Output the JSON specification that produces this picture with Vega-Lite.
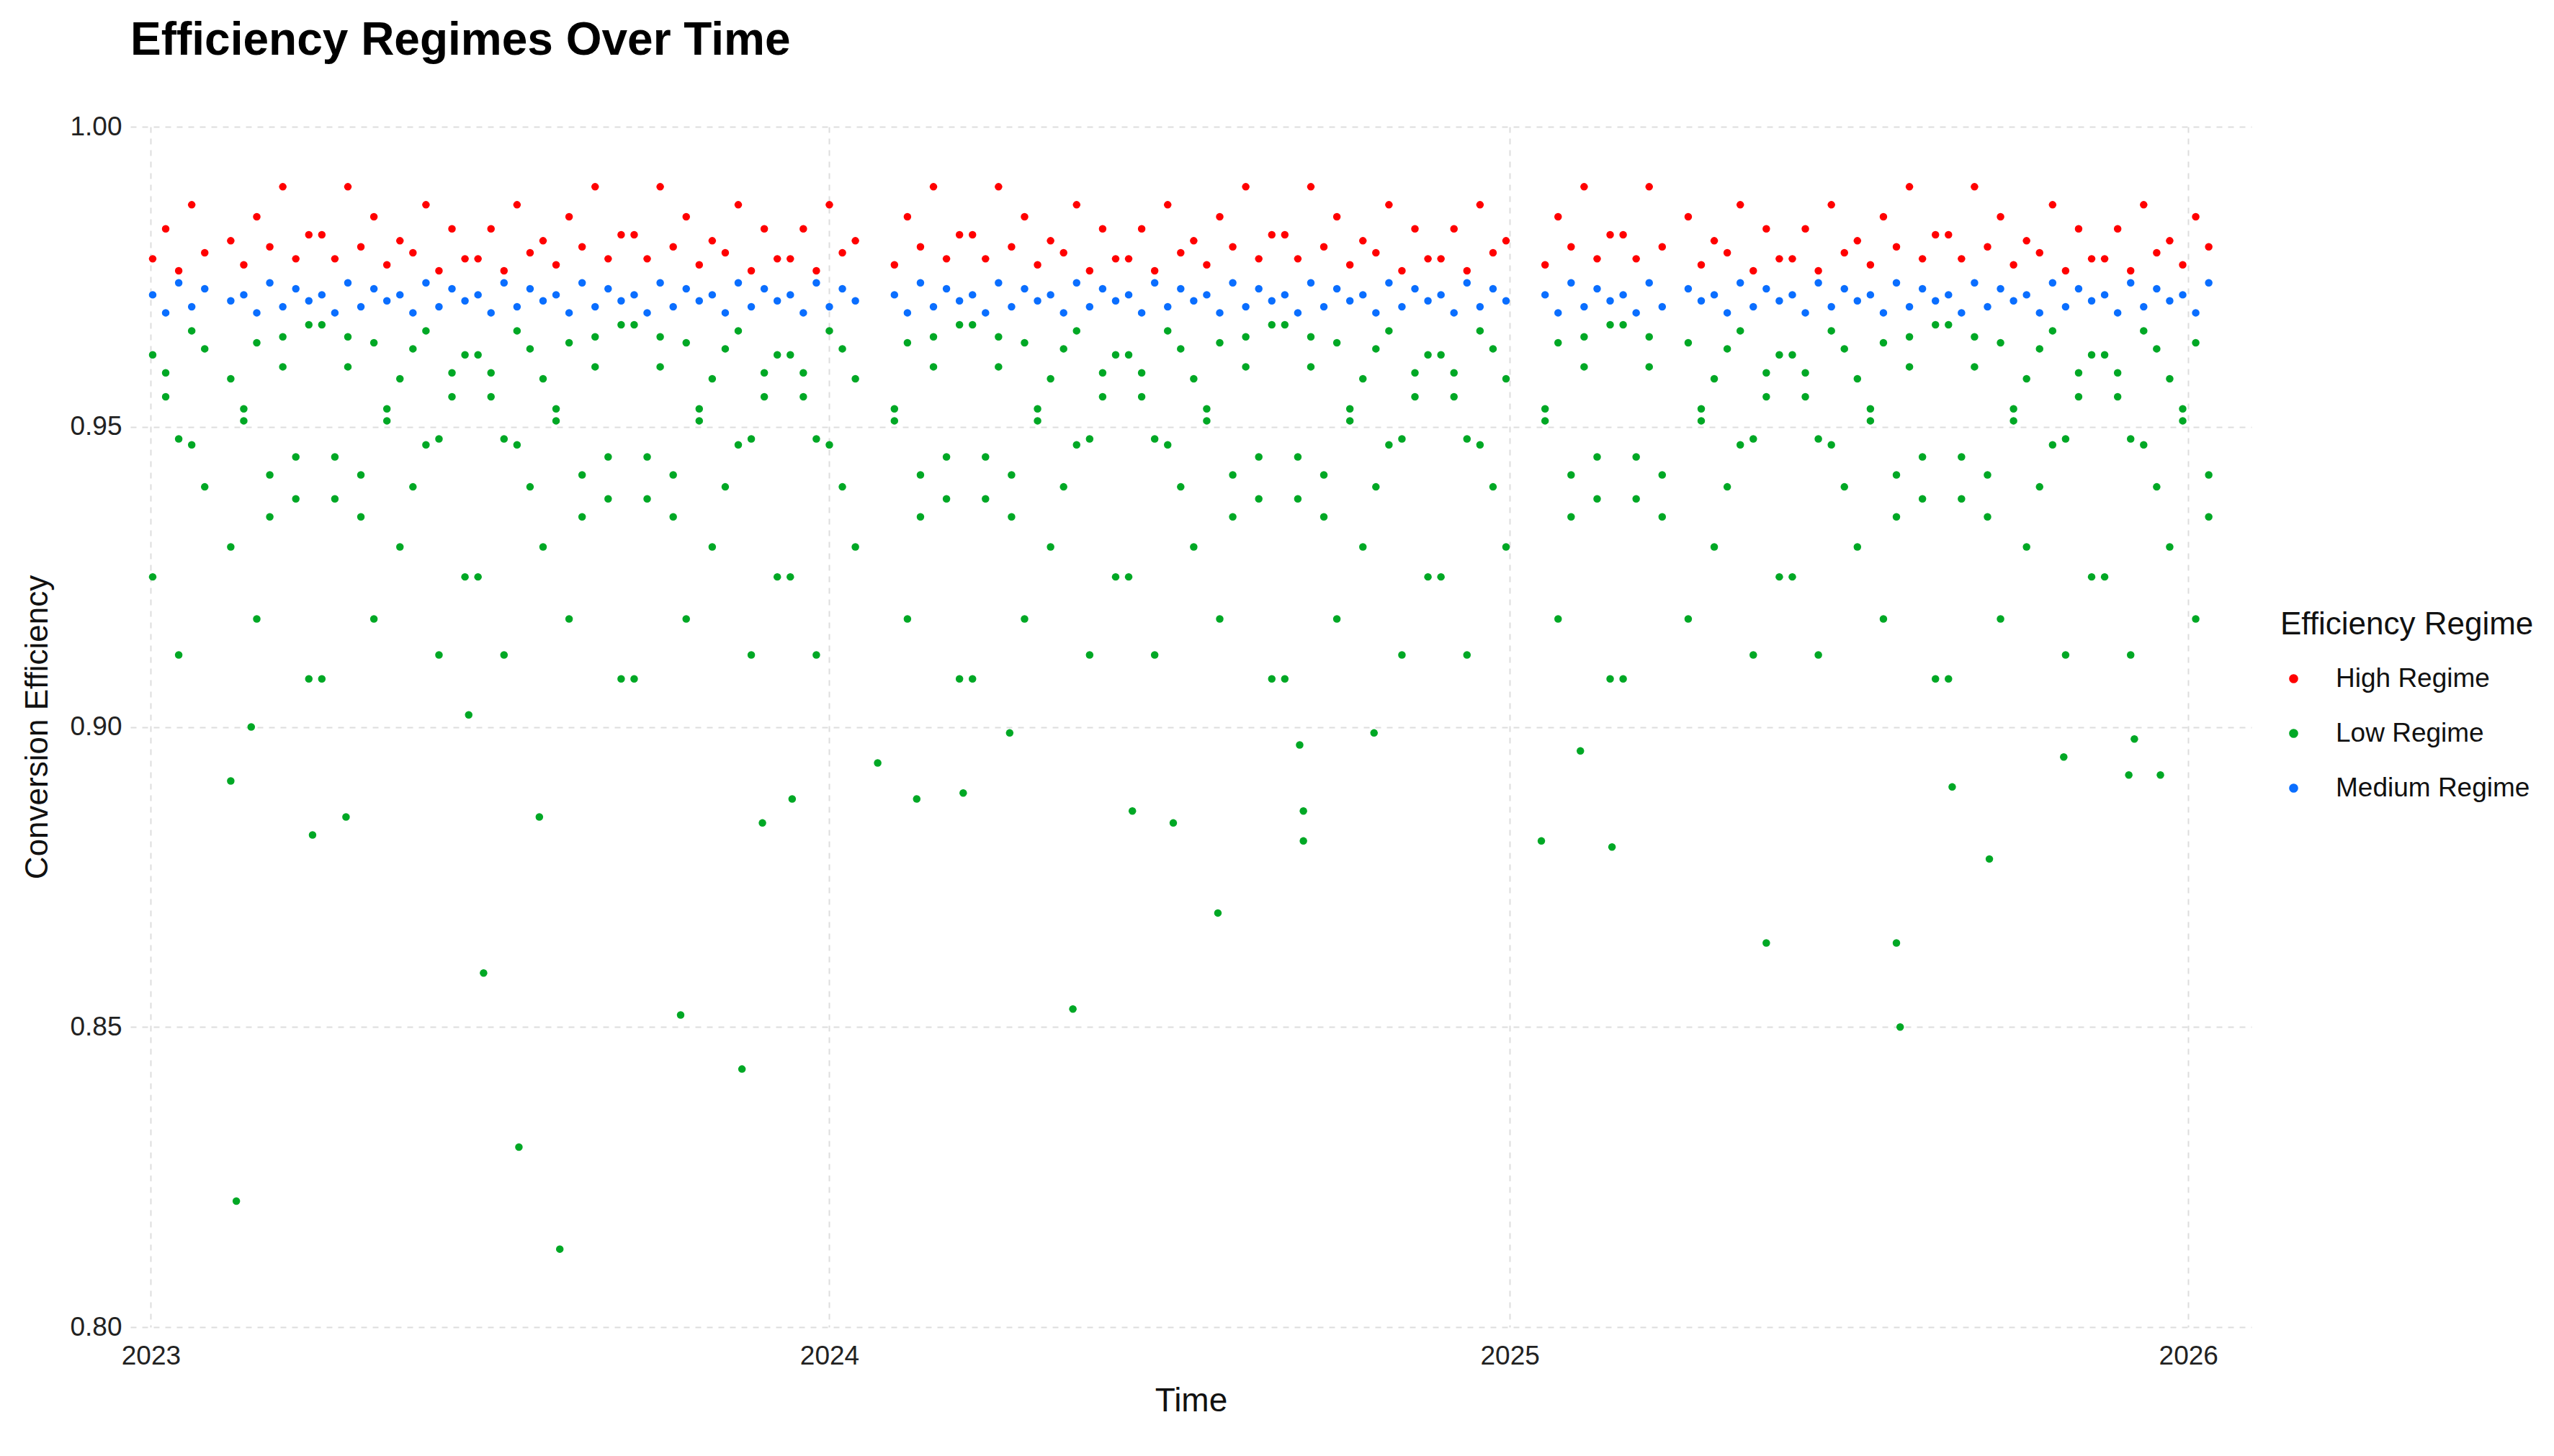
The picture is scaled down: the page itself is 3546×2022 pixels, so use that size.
{
  "$schema": "https://vega.github.io/schema/vega-lite/v6.json",
  "width": 2945,
  "height": 1667,
  "autosize": {"type": "none"},
  "padding": {"left": 181, "top": 176, "right": 420, "bottom": 179},
  "background": "white",
  "title": {
    "text": "Efficiency Regimes Over Time",
    "anchor": "start",
    "frame": "group",
    "fontSize": 64,
    "fontWeight": "bold",
    "font": "Liberation Sans",
    "color": "black",
    "offset": 68
  },
  "data": {
    "values": [
      {"t":"2023-01-02","v":0.978,"r":"H"},{"t":"2023-01-02","v":0.972,"r":"M"},{"t":"2023-01-02","v":0.962,"r":"L"},{"t":"2023-01-02","v":0.925,"r":"L"},
      {"t":"2023-01-09","v":0.983,"r":"H"},{"t":"2023-01-09","v":0.969,"r":"M"},{"t":"2023-01-09","v":0.955,"r":"L"},{"t":"2023-01-09","v":0.959,"r":"L"},
      {"t":"2023-01-16","v":0.976,"r":"H"},{"t":"2023-01-16","v":0.974,"r":"M"},{"t":"2023-01-16","v":0.948,"r":"L"},{"t":"2023-01-16","v":0.912,"r":"L"},
      {"t":"2023-01-23","v":0.987,"r":"H"},{"t":"2023-01-23","v":0.970,"r":"M"},{"t":"2023-01-23","v":0.966,"r":"L"},{"t":"2023-01-23","v":0.947,"r":"L"},
      {"t":"2023-01-30","v":0.979,"r":"H"},{"t":"2023-01-30","v":0.973,"r":"M"},{"t":"2023-01-30","v":0.940,"r":"L"},{"t":"2023-01-30","v":0.963,"r":"L"},
      {"t":"2023-02-13","v":0.981,"r":"H"},{"t":"2023-02-13","v":0.971,"r":"M"},{"t":"2023-02-13","v":0.958,"r":"L"},{"t":"2023-02-13","v":0.930,"r":"L"},
      {"t":"2023-02-20","v":0.977,"r":"H"},{"t":"2023-02-20","v":0.972,"r":"M"},{"t":"2023-02-20","v":0.951,"r":"L"},{"t":"2023-02-20","v":0.953,"r":"L"},
      {"t":"2023-02-27","v":0.985,"r":"H"},{"t":"2023-02-27","v":0.969,"r":"M"},{"t":"2023-02-27","v":0.964,"r":"L"},{"t":"2023-02-27","v":0.918,"r":"L"},
      {"t":"2023-03-06","v":0.980,"r":"H"},{"t":"2023-03-06","v":0.974,"r":"M"},{"t":"2023-03-06","v":0.935,"r":"L"},{"t":"2023-03-06","v":0.942,"r":"L"},
      {"t":"2023-03-13","v":0.990,"r":"H"},{"t":"2023-03-13","v":0.970,"r":"M"},{"t":"2023-03-13","v":0.960,"r":"L"},{"t":"2023-03-13","v":0.965,"r":"L"},
      {"t":"2023-03-20","v":0.978,"r":"H"},{"t":"2023-03-20","v":0.973,"r":"M"},{"t":"2023-03-20","v":0.945,"r":"L"},{"t":"2023-03-20","v":0.938,"r":"L"},
      {"t":"2023-03-27","v":0.982,"r":"H"},{"t":"2023-03-27","v":0.971,"r":"M"},{"t":"2023-03-27","v":0.967,"r":"L"},{"t":"2023-03-27","v":0.908,"r":"L"},
      {"t":"2023-04-03","v":0.982,"r":"H"},{"t":"2023-04-03","v":0.972,"r":"M"},{"t":"2023-04-03","v":0.967,"r":"L"},{"t":"2023-04-03","v":0.908,"r":"L"},
      {"t":"2023-04-10","v":0.978,"r":"H"},{"t":"2023-04-10","v":0.969,"r":"M"},{"t":"2023-04-10","v":0.945,"r":"L"},{"t":"2023-04-10","v":0.938,"r":"L"},
      {"t":"2023-04-17","v":0.990,"r":"H"},{"t":"2023-04-17","v":0.974,"r":"M"},{"t":"2023-04-17","v":0.960,"r":"L"},{"t":"2023-04-17","v":0.965,"r":"L"},
      {"t":"2023-04-24","v":0.980,"r":"H"},{"t":"2023-04-24","v":0.970,"r":"M"},{"t":"2023-04-24","v":0.935,"r":"L"},{"t":"2023-04-24","v":0.942,"r":"L"},
      {"t":"2023-05-01","v":0.985,"r":"H"},{"t":"2023-05-01","v":0.973,"r":"M"},{"t":"2023-05-01","v":0.964,"r":"L"},{"t":"2023-05-01","v":0.918,"r":"L"},
      {"t":"2023-05-08","v":0.977,"r":"H"},{"t":"2023-05-08","v":0.971,"r":"M"},{"t":"2023-05-08","v":0.951,"r":"L"},{"t":"2023-05-08","v":0.953,"r":"L"},
      {"t":"2023-05-15","v":0.981,"r":"H"},{"t":"2023-05-15","v":0.972,"r":"M"},{"t":"2023-05-15","v":0.958,"r":"L"},{"t":"2023-05-15","v":0.930,"r":"L"},
      {"t":"2023-05-22","v":0.979,"r":"H"},{"t":"2023-05-22","v":0.969,"r":"M"},{"t":"2023-05-22","v":0.940,"r":"L"},{"t":"2023-05-22","v":0.963,"r":"L"},
      {"t":"2023-05-29","v":0.987,"r":"H"},{"t":"2023-05-29","v":0.974,"r":"M"},{"t":"2023-05-29","v":0.966,"r":"L"},{"t":"2023-05-29","v":0.947,"r":"L"},
      {"t":"2023-06-05","v":0.976,"r":"H"},{"t":"2023-06-05","v":0.970,"r":"M"},{"t":"2023-06-05","v":0.948,"r":"L"},{"t":"2023-06-05","v":0.912,"r":"L"},
      {"t":"2023-06-12","v":0.983,"r":"H"},{"t":"2023-06-12","v":0.973,"r":"M"},{"t":"2023-06-12","v":0.955,"r":"L"},{"t":"2023-06-12","v":0.959,"r":"L"},
      {"t":"2023-06-19","v":0.978,"r":"H"},{"t":"2023-06-19","v":0.971,"r":"M"},{"t":"2023-06-19","v":0.962,"r":"L"},{"t":"2023-06-19","v":0.925,"r":"L"},
      {"t":"2023-06-26","v":0.978,"r":"H"},{"t":"2023-06-26","v":0.972,"r":"M"},{"t":"2023-06-26","v":0.962,"r":"L"},{"t":"2023-06-26","v":0.925,"r":"L"},
      {"t":"2023-07-03","v":0.983,"r":"H"},{"t":"2023-07-03","v":0.969,"r":"M"},{"t":"2023-07-03","v":0.955,"r":"L"},{"t":"2023-07-03","v":0.959,"r":"L"},
      {"t":"2023-07-10","v":0.976,"r":"H"},{"t":"2023-07-10","v":0.974,"r":"M"},{"t":"2023-07-10","v":0.948,"r":"L"},{"t":"2023-07-10","v":0.912,"r":"L"},
      {"t":"2023-07-17","v":0.987,"r":"H"},{"t":"2023-07-17","v":0.970,"r":"M"},{"t":"2023-07-17","v":0.966,"r":"L"},{"t":"2023-07-17","v":0.947,"r":"L"},
      {"t":"2023-07-24","v":0.979,"r":"H"},{"t":"2023-07-24","v":0.973,"r":"M"},{"t":"2023-07-24","v":0.940,"r":"L"},{"t":"2023-07-24","v":0.963,"r":"L"},
      {"t":"2023-07-31","v":0.981,"r":"H"},{"t":"2023-07-31","v":0.971,"r":"M"},{"t":"2023-07-31","v":0.958,"r":"L"},{"t":"2023-07-31","v":0.930,"r":"L"},
      {"t":"2023-08-07","v":0.977,"r":"H"},{"t":"2023-08-07","v":0.972,"r":"M"},{"t":"2023-08-07","v":0.951,"r":"L"},{"t":"2023-08-07","v":0.953,"r":"L"},
      {"t":"2023-08-14","v":0.985,"r":"H"},{"t":"2023-08-14","v":0.969,"r":"M"},{"t":"2023-08-14","v":0.964,"r":"L"},{"t":"2023-08-14","v":0.918,"r":"L"},
      {"t":"2023-08-21","v":0.980,"r":"H"},{"t":"2023-08-21","v":0.974,"r":"M"},{"t":"2023-08-21","v":0.935,"r":"L"},{"t":"2023-08-21","v":0.942,"r":"L"},
      {"t":"2023-08-28","v":0.990,"r":"H"},{"t":"2023-08-28","v":0.970,"r":"M"},{"t":"2023-08-28","v":0.960,"r":"L"},{"t":"2023-08-28","v":0.965,"r":"L"},
      {"t":"2023-09-04","v":0.978,"r":"H"},{"t":"2023-09-04","v":0.973,"r":"M"},{"t":"2023-09-04","v":0.945,"r":"L"},{"t":"2023-09-04","v":0.938,"r":"L"},
      {"t":"2023-09-11","v":0.982,"r":"H"},{"t":"2023-09-11","v":0.971,"r":"M"},{"t":"2023-09-11","v":0.967,"r":"L"},{"t":"2023-09-11","v":0.908,"r":"L"},
      {"t":"2023-09-18","v":0.982,"r":"H"},{"t":"2023-09-18","v":0.972,"r":"M"},{"t":"2023-09-18","v":0.967,"r":"L"},{"t":"2023-09-18","v":0.908,"r":"L"},
      {"t":"2023-09-25","v":0.978,"r":"H"},{"t":"2023-09-25","v":0.969,"r":"M"},{"t":"2023-09-25","v":0.945,"r":"L"},{"t":"2023-09-25","v":0.938,"r":"L"},
      {"t":"2023-10-02","v":0.990,"r":"H"},{"t":"2023-10-02","v":0.974,"r":"M"},{"t":"2023-10-02","v":0.960,"r":"L"},{"t":"2023-10-02","v":0.965,"r":"L"},
      {"t":"2023-10-09","v":0.980,"r":"H"},{"t":"2023-10-09","v":0.970,"r":"M"},{"t":"2023-10-09","v":0.935,"r":"L"},{"t":"2023-10-09","v":0.942,"r":"L"},
      {"t":"2023-10-16","v":0.985,"r":"H"},{"t":"2023-10-16","v":0.973,"r":"M"},{"t":"2023-10-16","v":0.964,"r":"L"},{"t":"2023-10-16","v":0.918,"r":"L"},
      {"t":"2023-10-23","v":0.977,"r":"H"},{"t":"2023-10-23","v":0.971,"r":"M"},{"t":"2023-10-23","v":0.951,"r":"L"},{"t":"2023-10-23","v":0.953,"r":"L"},
      {"t":"2023-10-30","v":0.981,"r":"H"},{"t":"2023-10-30","v":0.972,"r":"M"},{"t":"2023-10-30","v":0.958,"r":"L"},{"t":"2023-10-30","v":0.930,"r":"L"},
      {"t":"2023-11-06","v":0.979,"r":"H"},{"t":"2023-11-06","v":0.969,"r":"M"},{"t":"2023-11-06","v":0.940,"r":"L"},{"t":"2023-11-06","v":0.963,"r":"L"},
      {"t":"2023-11-13","v":0.987,"r":"H"},{"t":"2023-11-13","v":0.974,"r":"M"},{"t":"2023-11-13","v":0.966,"r":"L"},{"t":"2023-11-13","v":0.947,"r":"L"},
      {"t":"2023-11-20","v":0.976,"r":"H"},{"t":"2023-11-20","v":0.970,"r":"M"},{"t":"2023-11-20","v":0.948,"r":"L"},{"t":"2023-11-20","v":0.912,"r":"L"},
      {"t":"2023-11-27","v":0.983,"r":"H"},{"t":"2023-11-27","v":0.973,"r":"M"},{"t":"2023-11-27","v":0.955,"r":"L"},{"t":"2023-11-27","v":0.959,"r":"L"},
      {"t":"2023-12-04","v":0.978,"r":"H"},{"t":"2023-12-04","v":0.971,"r":"M"},{"t":"2023-12-04","v":0.962,"r":"L"},{"t":"2023-12-04","v":0.925,"r":"L"},
      {"t":"2023-12-11","v":0.978,"r":"H"},{"t":"2023-12-11","v":0.972,"r":"M"},{"t":"2023-12-11","v":0.962,"r":"L"},{"t":"2023-12-11","v":0.925,"r":"L"},
      {"t":"2023-12-18","v":0.983,"r":"H"},{"t":"2023-12-18","v":0.969,"r":"M"},{"t":"2023-12-18","v":0.955,"r":"L"},{"t":"2023-12-18","v":0.959,"r":"L"},
      {"t":"2023-12-25","v":0.976,"r":"H"},{"t":"2023-12-25","v":0.974,"r":"M"},{"t":"2023-12-25","v":0.948,"r":"L"},{"t":"2023-12-25","v":0.912,"r":"L"},
      {"t":"2024-01-01","v":0.987,"r":"H"},{"t":"2024-01-01","v":0.970,"r":"M"},{"t":"2024-01-01","v":0.966,"r":"L"},{"t":"2024-01-01","v":0.947,"r":"L"},
      {"t":"2024-01-08","v":0.979,"r":"H"},{"t":"2024-01-08","v":0.973,"r":"M"},{"t":"2024-01-08","v":0.940,"r":"L"},{"t":"2024-01-08","v":0.963,"r":"L"},
      {"t":"2024-01-15","v":0.981,"r":"H"},{"t":"2024-01-15","v":0.971,"r":"M"},{"t":"2024-01-15","v":0.958,"r":"L"},{"t":"2024-01-15","v":0.930,"r":"L"},
      {"t":"2024-02-05","v":0.977,"r":"H"},{"t":"2024-02-05","v":0.972,"r":"M"},{"t":"2024-02-05","v":0.951,"r":"L"},{"t":"2024-02-05","v":0.953,"r":"L"},
      {"t":"2024-02-12","v":0.985,"r":"H"},{"t":"2024-02-12","v":0.969,"r":"M"},{"t":"2024-02-12","v":0.964,"r":"L"},{"t":"2024-02-12","v":0.918,"r":"L"},
      {"t":"2024-02-19","v":0.980,"r":"H"},{"t":"2024-02-19","v":0.974,"r":"M"},{"t":"2024-02-19","v":0.935,"r":"L"},{"t":"2024-02-19","v":0.942,"r":"L"},
      {"t":"2024-02-26","v":0.990,"r":"H"},{"t":"2024-02-26","v":0.970,"r":"M"},{"t":"2024-02-26","v":0.960,"r":"L"},{"t":"2024-02-26","v":0.965,"r":"L"},
      {"t":"2024-03-04","v":0.978,"r":"H"},{"t":"2024-03-04","v":0.973,"r":"M"},{"t":"2024-03-04","v":0.945,"r":"L"},{"t":"2024-03-04","v":0.938,"r":"L"},
      {"t":"2024-03-11","v":0.982,"r":"H"},{"t":"2024-03-11","v":0.971,"r":"M"},{"t":"2024-03-11","v":0.967,"r":"L"},{"t":"2024-03-11","v":0.908,"r":"L"},
      {"t":"2024-03-18","v":0.982,"r":"H"},{"t":"2024-03-18","v":0.972,"r":"M"},{"t":"2024-03-18","v":0.967,"r":"L"},{"t":"2024-03-18","v":0.908,"r":"L"},
      {"t":"2024-03-25","v":0.978,"r":"H"},{"t":"2024-03-25","v":0.969,"r":"M"},{"t":"2024-03-25","v":0.945,"r":"L"},{"t":"2024-03-25","v":0.938,"r":"L"},
      {"t":"2024-04-01","v":0.990,"r":"H"},{"t":"2024-04-01","v":0.974,"r":"M"},{"t":"2024-04-01","v":0.960,"r":"L"},{"t":"2024-04-01","v":0.965,"r":"L"},
      {"t":"2024-04-08","v":0.980,"r":"H"},{"t":"2024-04-08","v":0.970,"r":"M"},{"t":"2024-04-08","v":0.935,"r":"L"},{"t":"2024-04-08","v":0.942,"r":"L"},
      {"t":"2024-04-15","v":0.985,"r":"H"},{"t":"2024-04-15","v":0.973,"r":"M"},{"t":"2024-04-15","v":0.964,"r":"L"},{"t":"2024-04-15","v":0.918,"r":"L"},
      {"t":"2024-04-22","v":0.977,"r":"H"},{"t":"2024-04-22","v":0.971,"r":"M"},{"t":"2024-04-22","v":0.951,"r":"L"},{"t":"2024-04-22","v":0.953,"r":"L"},
      {"t":"2024-04-29","v":0.981,"r":"H"},{"t":"2024-04-29","v":0.972,"r":"M"},{"t":"2024-04-29","v":0.958,"r":"L"},{"t":"2024-04-29","v":0.930,"r":"L"},
      {"t":"2024-05-06","v":0.979,"r":"H"},{"t":"2024-05-06","v":0.969,"r":"M"},{"t":"2024-05-06","v":0.940,"r":"L"},{"t":"2024-05-06","v":0.963,"r":"L"},
      {"t":"2024-05-13","v":0.987,"r":"H"},{"t":"2024-05-13","v":0.974,"r":"M"},{"t":"2024-05-13","v":0.966,"r":"L"},{"t":"2024-05-13","v":0.947,"r":"L"},
      {"t":"2024-05-20","v":0.976,"r":"H"},{"t":"2024-05-20","v":0.970,"r":"M"},{"t":"2024-05-20","v":0.948,"r":"L"},{"t":"2024-05-20","v":0.912,"r":"L"},
      {"t":"2024-05-27","v":0.983,"r":"H"},{"t":"2024-05-27","v":0.973,"r":"M"},{"t":"2024-05-27","v":0.955,"r":"L"},{"t":"2024-05-27","v":0.959,"r":"L"},
      {"t":"2024-06-03","v":0.978,"r":"H"},{"t":"2024-06-03","v":0.971,"r":"M"},{"t":"2024-06-03","v":0.962,"r":"L"},{"t":"2024-06-03","v":0.925,"r":"L"},
      {"t":"2024-06-10","v":0.978,"r":"H"},{"t":"2024-06-10","v":0.972,"r":"M"},{"t":"2024-06-10","v":0.962,"r":"L"},{"t":"2024-06-10","v":0.925,"r":"L"},
      {"t":"2024-06-17","v":0.983,"r":"H"},{"t":"2024-06-17","v":0.969,"r":"M"},{"t":"2024-06-17","v":0.955,"r":"L"},{"t":"2024-06-17","v":0.959,"r":"L"},
      {"t":"2024-06-24","v":0.976,"r":"H"},{"t":"2024-06-24","v":0.974,"r":"M"},{"t":"2024-06-24","v":0.948,"r":"L"},{"t":"2024-06-24","v":0.912,"r":"L"},
      {"t":"2024-07-01","v":0.987,"r":"H"},{"t":"2024-07-01","v":0.970,"r":"M"},{"t":"2024-07-01","v":0.966,"r":"L"},{"t":"2024-07-01","v":0.947,"r":"L"},
      {"t":"2024-07-08","v":0.979,"r":"H"},{"t":"2024-07-08","v":0.973,"r":"M"},{"t":"2024-07-08","v":0.940,"r":"L"},{"t":"2024-07-08","v":0.963,"r":"L"},
      {"t":"2024-07-15","v":0.981,"r":"H"},{"t":"2024-07-15","v":0.971,"r":"M"},{"t":"2024-07-15","v":0.958,"r":"L"},{"t":"2024-07-15","v":0.930,"r":"L"},
      {"t":"2024-07-22","v":0.977,"r":"H"},{"t":"2024-07-22","v":0.972,"r":"M"},{"t":"2024-07-22","v":0.951,"r":"L"},{"t":"2024-07-22","v":0.953,"r":"L"},
      {"t":"2024-07-29","v":0.985,"r":"H"},{"t":"2024-07-29","v":0.969,"r":"M"},{"t":"2024-07-29","v":0.964,"r":"L"},{"t":"2024-07-29","v":0.918,"r":"L"},
      {"t":"2024-08-05","v":0.980,"r":"H"},{"t":"2024-08-05","v":0.974,"r":"M"},{"t":"2024-08-05","v":0.935,"r":"L"},{"t":"2024-08-05","v":0.942,"r":"L"},
      {"t":"2024-08-12","v":0.990,"r":"H"},{"t":"2024-08-12","v":0.970,"r":"M"},{"t":"2024-08-12","v":0.960,"r":"L"},{"t":"2024-08-12","v":0.965,"r":"L"},
      {"t":"2024-08-19","v":0.978,"r":"H"},{"t":"2024-08-19","v":0.973,"r":"M"},{"t":"2024-08-19","v":0.945,"r":"L"},{"t":"2024-08-19","v":0.938,"r":"L"},
      {"t":"2024-08-26","v":0.982,"r":"H"},{"t":"2024-08-26","v":0.971,"r":"M"},{"t":"2024-08-26","v":0.967,"r":"L"},{"t":"2024-08-26","v":0.908,"r":"L"},
      {"t":"2024-09-02","v":0.982,"r":"H"},{"t":"2024-09-02","v":0.972,"r":"M"},{"t":"2024-09-02","v":0.967,"r":"L"},{"t":"2024-09-02","v":0.908,"r":"L"},
      {"t":"2024-09-09","v":0.978,"r":"H"},{"t":"2024-09-09","v":0.969,"r":"M"},{"t":"2024-09-09","v":0.945,"r":"L"},{"t":"2024-09-09","v":0.938,"r":"L"},
      {"t":"2024-09-16","v":0.990,"r":"H"},{"t":"2024-09-16","v":0.974,"r":"M"},{"t":"2024-09-16","v":0.960,"r":"L"},{"t":"2024-09-16","v":0.965,"r":"L"},
      {"t":"2024-09-23","v":0.980,"r":"H"},{"t":"2024-09-23","v":0.970,"r":"M"},{"t":"2024-09-23","v":0.935,"r":"L"},{"t":"2024-09-23","v":0.942,"r":"L"},
      {"t":"2024-09-30","v":0.985,"r":"H"},{"t":"2024-09-30","v":0.973,"r":"M"},{"t":"2024-09-30","v":0.964,"r":"L"},{"t":"2024-09-30","v":0.918,"r":"L"},
      {"t":"2024-10-07","v":0.977,"r":"H"},{"t":"2024-10-07","v":0.971,"r":"M"},{"t":"2024-10-07","v":0.951,"r":"L"},{"t":"2024-10-07","v":0.953,"r":"L"},
      {"t":"2024-10-14","v":0.981,"r":"H"},{"t":"2024-10-14","v":0.972,"r":"M"},{"t":"2024-10-14","v":0.958,"r":"L"},{"t":"2024-10-14","v":0.930,"r":"L"},
      {"t":"2024-10-21","v":0.979,"r":"H"},{"t":"2024-10-21","v":0.969,"r":"M"},{"t":"2024-10-21","v":0.940,"r":"L"},{"t":"2024-10-21","v":0.963,"r":"L"},
      {"t":"2024-10-28","v":0.987,"r":"H"},{"t":"2024-10-28","v":0.974,"r":"M"},{"t":"2024-10-28","v":0.966,"r":"L"},{"t":"2024-10-28","v":0.947,"r":"L"},
      {"t":"2024-11-04","v":0.976,"r":"H"},{"t":"2024-11-04","v":0.970,"r":"M"},{"t":"2024-11-04","v":0.948,"r":"L"},{"t":"2024-11-04","v":0.912,"r":"L"},
      {"t":"2024-11-11","v":0.983,"r":"H"},{"t":"2024-11-11","v":0.973,"r":"M"},{"t":"2024-11-11","v":0.955,"r":"L"},{"t":"2024-11-11","v":0.959,"r":"L"},
      {"t":"2024-11-18","v":0.978,"r":"H"},{"t":"2024-11-18","v":0.971,"r":"M"},{"t":"2024-11-18","v":0.962,"r":"L"},{"t":"2024-11-18","v":0.925,"r":"L"},
      {"t":"2024-11-25","v":0.978,"r":"H"},{"t":"2024-11-25","v":0.972,"r":"M"},{"t":"2024-11-25","v":0.962,"r":"L"},{"t":"2024-11-25","v":0.925,"r":"L"},
      {"t":"2024-12-02","v":0.983,"r":"H"},{"t":"2024-12-02","v":0.969,"r":"M"},{"t":"2024-12-02","v":0.955,"r":"L"},{"t":"2024-12-02","v":0.959,"r":"L"},
      {"t":"2024-12-09","v":0.976,"r":"H"},{"t":"2024-12-09","v":0.974,"r":"M"},{"t":"2024-12-09","v":0.948,"r":"L"},{"t":"2024-12-09","v":0.912,"r":"L"},
      {"t":"2024-12-16","v":0.987,"r":"H"},{"t":"2024-12-16","v":0.970,"r":"M"},{"t":"2024-12-16","v":0.966,"r":"L"},{"t":"2024-12-16","v":0.947,"r":"L"},
      {"t":"2024-12-23","v":0.979,"r":"H"},{"t":"2024-12-23","v":0.973,"r":"M"},{"t":"2024-12-23","v":0.940,"r":"L"},{"t":"2024-12-23","v":0.963,"r":"L"},
      {"t":"2024-12-30","v":0.981,"r":"H"},{"t":"2024-12-30","v":0.971,"r":"M"},{"t":"2024-12-30","v":0.958,"r":"L"},{"t":"2024-12-30","v":0.930,"r":"L"},
      {"t":"2025-01-20","v":0.977,"r":"H"},{"t":"2025-01-20","v":0.972,"r":"M"},{"t":"2025-01-20","v":0.951,"r":"L"},{"t":"2025-01-20","v":0.953,"r":"L"},
      {"t":"2025-01-27","v":0.985,"r":"H"},{"t":"2025-01-27","v":0.969,"r":"M"},{"t":"2025-01-27","v":0.964,"r":"L"},{"t":"2025-01-27","v":0.918,"r":"L"},
      {"t":"2025-02-03","v":0.980,"r":"H"},{"t":"2025-02-03","v":0.974,"r":"M"},{"t":"2025-02-03","v":0.935,"r":"L"},{"t":"2025-02-03","v":0.942,"r":"L"},
      {"t":"2025-02-10","v":0.990,"r":"H"},{"t":"2025-02-10","v":0.970,"r":"M"},{"t":"2025-02-10","v":0.960,"r":"L"},{"t":"2025-02-10","v":0.965,"r":"L"},
      {"t":"2025-02-17","v":0.978,"r":"H"},{"t":"2025-02-17","v":0.973,"r":"M"},{"t":"2025-02-17","v":0.945,"r":"L"},{"t":"2025-02-17","v":0.938,"r":"L"},
      {"t":"2025-02-24","v":0.982,"r":"H"},{"t":"2025-02-24","v":0.971,"r":"M"},{"t":"2025-02-24","v":0.967,"r":"L"},{"t":"2025-02-24","v":0.908,"r":"L"},
      {"t":"2025-03-03","v":0.982,"r":"H"},{"t":"2025-03-03","v":0.972,"r":"M"},{"t":"2025-03-03","v":0.967,"r":"L"},{"t":"2025-03-03","v":0.908,"r":"L"},
      {"t":"2025-03-10","v":0.978,"r":"H"},{"t":"2025-03-10","v":0.969,"r":"M"},{"t":"2025-03-10","v":0.945,"r":"L"},{"t":"2025-03-10","v":0.938,"r":"L"},
      {"t":"2025-03-17","v":0.990,"r":"H"},{"t":"2025-03-17","v":0.974,"r":"M"},{"t":"2025-03-17","v":0.960,"r":"L"},{"t":"2025-03-17","v":0.965,"r":"L"},
      {"t":"2025-03-24","v":0.980,"r":"H"},{"t":"2025-03-24","v":0.970,"r":"M"},{"t":"2025-03-24","v":0.935,"r":"L"},{"t":"2025-03-24","v":0.942,"r":"L"},
      {"t":"2025-04-07","v":0.985,"r":"H"},{"t":"2025-04-07","v":0.973,"r":"M"},{"t":"2025-04-07","v":0.964,"r":"L"},{"t":"2025-04-07","v":0.918,"r":"L"},
      {"t":"2025-04-14","v":0.977,"r":"H"},{"t":"2025-04-14","v":0.971,"r":"M"},{"t":"2025-04-14","v":0.951,"r":"L"},{"t":"2025-04-14","v":0.953,"r":"L"},
      {"t":"2025-04-21","v":0.981,"r":"H"},{"t":"2025-04-21","v":0.972,"r":"M"},{"t":"2025-04-21","v":0.958,"r":"L"},{"t":"2025-04-21","v":0.930,"r":"L"},
      {"t":"2025-04-28","v":0.979,"r":"H"},{"t":"2025-04-28","v":0.969,"r":"M"},{"t":"2025-04-28","v":0.940,"r":"L"},{"t":"2025-04-28","v":0.963,"r":"L"},
      {"t":"2025-05-05","v":0.987,"r":"H"},{"t":"2025-05-05","v":0.974,"r":"M"},{"t":"2025-05-05","v":0.966,"r":"L"},{"t":"2025-05-05","v":0.947,"r":"L"},
      {"t":"2025-05-12","v":0.976,"r":"H"},{"t":"2025-05-12","v":0.970,"r":"M"},{"t":"2025-05-12","v":0.948,"r":"L"},{"t":"2025-05-12","v":0.912,"r":"L"},
      {"t":"2025-05-19","v":0.983,"r":"H"},{"t":"2025-05-19","v":0.973,"r":"M"},{"t":"2025-05-19","v":0.955,"r":"L"},{"t":"2025-05-19","v":0.959,"r":"L"},
      {"t":"2025-05-26","v":0.978,"r":"H"},{"t":"2025-05-26","v":0.971,"r":"M"},{"t":"2025-05-26","v":0.962,"r":"L"},{"t":"2025-05-26","v":0.925,"r":"L"},
      {"t":"2025-06-02","v":0.978,"r":"H"},{"t":"2025-06-02","v":0.972,"r":"M"},{"t":"2025-06-02","v":0.962,"r":"L"},{"t":"2025-06-02","v":0.925,"r":"L"},
      {"t":"2025-06-09","v":0.983,"r":"H"},{"t":"2025-06-09","v":0.969,"r":"M"},{"t":"2025-06-09","v":0.955,"r":"L"},{"t":"2025-06-09","v":0.959,"r":"L"},
      {"t":"2025-06-16","v":0.976,"r":"H"},{"t":"2025-06-16","v":0.974,"r":"M"},{"t":"2025-06-16","v":0.948,"r":"L"},{"t":"2025-06-16","v":0.912,"r":"L"},
      {"t":"2025-06-23","v":0.987,"r":"H"},{"t":"2025-06-23","v":0.970,"r":"M"},{"t":"2025-06-23","v":0.966,"r":"L"},{"t":"2025-06-23","v":0.947,"r":"L"},
      {"t":"2025-06-30","v":0.979,"r":"H"},{"t":"2025-06-30","v":0.973,"r":"M"},{"t":"2025-06-30","v":0.940,"r":"L"},{"t":"2025-06-30","v":0.963,"r":"L"},
      {"t":"2025-07-07","v":0.981,"r":"H"},{"t":"2025-07-07","v":0.971,"r":"M"},{"t":"2025-07-07","v":0.958,"r":"L"},{"t":"2025-07-07","v":0.930,"r":"L"},
      {"t":"2025-07-14","v":0.977,"r":"H"},{"t":"2025-07-14","v":0.972,"r":"M"},{"t":"2025-07-14","v":0.951,"r":"L"},{"t":"2025-07-14","v":0.953,"r":"L"},
      {"t":"2025-07-21","v":0.985,"r":"H"},{"t":"2025-07-21","v":0.969,"r":"M"},{"t":"2025-07-21","v":0.964,"r":"L"},{"t":"2025-07-21","v":0.918,"r":"L"},
      {"t":"2025-07-28","v":0.980,"r":"H"},{"t":"2025-07-28","v":0.974,"r":"M"},{"t":"2025-07-28","v":0.935,"r":"L"},{"t":"2025-07-28","v":0.942,"r":"L"},
      {"t":"2025-08-04","v":0.990,"r":"H"},{"t":"2025-08-04","v":0.970,"r":"M"},{"t":"2025-08-04","v":0.960,"r":"L"},{"t":"2025-08-04","v":0.965,"r":"L"},
      {"t":"2025-08-11","v":0.978,"r":"H"},{"t":"2025-08-11","v":0.973,"r":"M"},{"t":"2025-08-11","v":0.945,"r":"L"},{"t":"2025-08-11","v":0.938,"r":"L"},
      {"t":"2025-08-18","v":0.982,"r":"H"},{"t":"2025-08-18","v":0.971,"r":"M"},{"t":"2025-08-18","v":0.967,"r":"L"},{"t":"2025-08-18","v":0.908,"r":"L"},
      {"t":"2025-08-25","v":0.982,"r":"H"},{"t":"2025-08-25","v":0.972,"r":"M"},{"t":"2025-08-25","v":0.967,"r":"L"},{"t":"2025-08-25","v":0.908,"r":"L"},
      {"t":"2025-09-01","v":0.978,"r":"H"},{"t":"2025-09-01","v":0.969,"r":"M"},{"t":"2025-09-01","v":0.945,"r":"L"},{"t":"2025-09-01","v":0.938,"r":"L"},
      {"t":"2025-09-08","v":0.990,"r":"H"},{"t":"2025-09-08","v":0.974,"r":"M"},{"t":"2025-09-08","v":0.960,"r":"L"},{"t":"2025-09-08","v":0.965,"r":"L"},
      {"t":"2025-09-15","v":0.980,"r":"H"},{"t":"2025-09-15","v":0.970,"r":"M"},{"t":"2025-09-15","v":0.935,"r":"L"},{"t":"2025-09-15","v":0.942,"r":"L"},
      {"t":"2025-09-22","v":0.985,"r":"H"},{"t":"2025-09-22","v":0.973,"r":"M"},{"t":"2025-09-22","v":0.964,"r":"L"},{"t":"2025-09-22","v":0.918,"r":"L"},
      {"t":"2025-09-29","v":0.977,"r":"H"},{"t":"2025-09-29","v":0.971,"r":"M"},{"t":"2025-09-29","v":0.951,"r":"L"},{"t":"2025-09-29","v":0.953,"r":"L"},
      {"t":"2025-10-06","v":0.981,"r":"H"},{"t":"2025-10-06","v":0.972,"r":"M"},{"t":"2025-10-06","v":0.958,"r":"L"},{"t":"2025-10-06","v":0.930,"r":"L"},
      {"t":"2025-10-13","v":0.979,"r":"H"},{"t":"2025-10-13","v":0.969,"r":"M"},{"t":"2025-10-13","v":0.940,"r":"L"},{"t":"2025-10-13","v":0.963,"r":"L"},
      {"t":"2025-10-20","v":0.987,"r":"H"},{"t":"2025-10-20","v":0.974,"r":"M"},{"t":"2025-10-20","v":0.966,"r":"L"},{"t":"2025-10-20","v":0.947,"r":"L"},
      {"t":"2025-10-27","v":0.976,"r":"H"},{"t":"2025-10-27","v":0.970,"r":"M"},{"t":"2025-10-27","v":0.948,"r":"L"},{"t":"2025-10-27","v":0.912,"r":"L"},
      {"t":"2025-11-03","v":0.983,"r":"H"},{"t":"2025-11-03","v":0.973,"r":"M"},{"t":"2025-11-03","v":0.955,"r":"L"},{"t":"2025-11-03","v":0.959,"r":"L"},
      {"t":"2025-11-10","v":0.978,"r":"H"},{"t":"2025-11-10","v":0.971,"r":"M"},{"t":"2025-11-10","v":0.962,"r":"L"},{"t":"2025-11-10","v":0.925,"r":"L"},
      {"t":"2025-11-17","v":0.978,"r":"H"},{"t":"2025-11-17","v":0.972,"r":"M"},{"t":"2025-11-17","v":0.962,"r":"L"},{"t":"2025-11-17","v":0.925,"r":"L"},
      {"t":"2025-11-24","v":0.983,"r":"H"},{"t":"2025-11-24","v":0.969,"r":"M"},{"t":"2025-11-24","v":0.955,"r":"L"},{"t":"2025-11-24","v":0.959,"r":"L"},
      {"t":"2025-12-01","v":0.976,"r":"H"},{"t":"2025-12-01","v":0.974,"r":"M"},{"t":"2025-12-01","v":0.948,"r":"L"},{"t":"2025-12-01","v":0.912,"r":"L"},
      {"t":"2025-12-08","v":0.987,"r":"H"},{"t":"2025-12-08","v":0.970,"r":"M"},{"t":"2025-12-08","v":0.966,"r":"L"},{"t":"2025-12-08","v":0.947,"r":"L"},
      {"t":"2025-12-15","v":0.979,"r":"H"},{"t":"2025-12-15","v":0.973,"r":"M"},{"t":"2025-12-15","v":0.940,"r":"L"},{"t":"2025-12-15","v":0.963,"r":"L"},
      {"t":"2025-12-22","v":0.981,"r":"H"},{"t":"2025-12-22","v":0.971,"r":"M"},{"t":"2025-12-22","v":0.958,"r":"L"},{"t":"2025-12-22","v":0.930,"r":"L"},
      {"t":"2025-12-29","v":0.977,"r":"H"},{"t":"2025-12-29","v":0.972,"r":"M"},{"t":"2025-12-29","v":0.951,"r":"L"},{"t":"2025-12-29","v":0.953,"r":"L"},
      {"t":"2026-01-05","v":0.985,"r":"H"},{"t":"2026-01-05","v":0.969,"r":"M"},{"t":"2026-01-05","v":0.964,"r":"L"},{"t":"2026-01-05","v":0.918,"r":"L"},
      {"t":"2026-01-12","v":0.980,"r":"H"},{"t":"2026-01-12","v":0.974,"r":"M"},{"t":"2026-01-12","v":0.935,"r":"L"},{"t":"2026-01-12","v":0.942,"r":"L"},
      {"t":"2023-02-16","v":0.821,"r":"L"},{"t":"2023-02-13","v":0.891,"r":"L"},{"t":"2023-02-24","v":0.900,"r":"L"},
      {"t":"2023-03-29","v":0.882,"r":"L"},{"t":"2023-04-16","v":0.885,"r":"L"},{"t":"2023-06-21","v":0.902,"r":"L"},
      {"t":"2023-06-29","v":0.859,"r":"L"},{"t":"2023-07-18","v":0.830,"r":"L"},{"t":"2023-07-29","v":0.885,"r":"L"},
      {"t":"2023-08-09","v":0.813,"r":"L"},{"t":"2023-10-13","v":0.852,"r":"L"},{"t":"2023-11-15","v":0.843,"r":"L"},
      {"t":"2023-11-26","v":0.884,"r":"L"},{"t":"2023-12-12","v":0.888,"r":"L"},{"t":"2024-01-27","v":0.894,"r":"L"},
      {"t":"2024-02-17","v":0.888,"r":"L"},{"t":"2024-03-13","v":0.889,"r":"L"},{"t":"2024-04-07","v":0.899,"r":"L"},
      {"t":"2024-05-11","v":0.853,"r":"L"},{"t":"2024-06-12","v":0.886,"r":"L"},{"t":"2024-07-04","v":0.884,"r":"L"},
      {"t":"2024-07-28","v":0.869,"r":"L"},{"t":"2024-09-12","v":0.886,"r":"L"},{"t":"2024-09-12","v":0.881,"r":"L"},
      {"t":"2024-09-10","v":0.897,"r":"L"},{"t":"2024-10-20","v":0.899,"r":"L"},{"t":"2025-01-18","v":0.881,"r":"L"},
      {"t":"2025-02-08","v":0.896,"r":"L"},{"t":"2025-02-25","v":0.880,"r":"L"},{"t":"2025-05-19","v":0.864,"r":"L"},
      {"t":"2025-07-28","v":0.864,"r":"L"},{"t":"2025-07-30","v":0.850,"r":"L"},{"t":"2025-08-27","v":0.890,"r":"L"},
      {"t":"2025-09-16","v":0.878,"r":"L"},{"t":"2025-10-26","v":0.895,"r":"L"},{"t":"2025-12-03","v":0.898,"r":"L"},
      {"t":"2025-11-30","v":0.892,"r":"L"},{"t":"2025-12-17","v":0.892,"r":"L"}
    ]
  },
  "mark": {"type": "circle", "size": 110, "opacity": 1},
  "encoding": {
    "x": {
      "field": "t",
      "type": "temporal",
      "scale": {"domain": ["2022-12-21", "2026-02-04"]},
      "axis": {
        "title": "Time",
        "format": "%Y",
        "tickCount": {"interval": "year", "step": 1},
        "labelFontSize": 37,
        "titleFontSize": 46,
        "titleFontWeight": "normal",
        "titlePadding": 22,
        "labelPadding": 22,
        "domain": false,
        "ticks": false,
        "grid": true,
        "gridDash": [8, 8],
        "gridColor": "#dddddd",
        "gridWidth": 2
      }
    },
    "y": {
      "field": "v",
      "type": "quantitative",
      "scale": {"domain": [0.8, 1.0], "zero": false, "nice": false},
      "axis": {
        "title": "Conversion Efficiency",
        "values": [0.8, 0.85, 0.9, 0.95, 1.0],
        "format": ".2f",
        "labelFontSize": 37,
        "titleFontSize": 44,
        "titleFontWeight": "normal",
        "titlePadding": 22,
        "labelPadding": 12,
        "domain": false,
        "ticks": false,
        "grid": true,
        "gridDash": [8, 8],
        "gridColor": "#dddddd",
        "gridWidth": 2
      }
    },
    "color": {
      "field": "r",
      "type": "nominal",
      "scale": {"domain": ["H", "L", "M"], "range": ["#FF0000", "#00A825", "#0A6EFF"]},
      "legend": {
        "title": "Efficiency Regime",
        "labelExpr": "{'H':'High Regime','L':'Low Regime','M':'Medium Regime'}[datum.label]",
        "orient": "none",
        "legendX": 2985,
        "legendY": 670,
        "titleFontSize": 44,
        "titleFontWeight": "normal",
        "titlePadding": 34,
        "titleLimit": 600,
        "labelLimit": 600,
        "labelFontSize": 37,
        "symbolType": "circle",
        "symbolSize": 160,
        "rowPadding": 38,
        "labelOffset": 40
      }
    }
  },
  "config": {
    "font": "Liberation Sans",
    "view": {"stroke": null},
    "axis": {"labelColor": "#222222", "titleColor": "#111111"},
    "legend": {"labelColor": "#111111", "titleColor": "#111111"}
  }
}
